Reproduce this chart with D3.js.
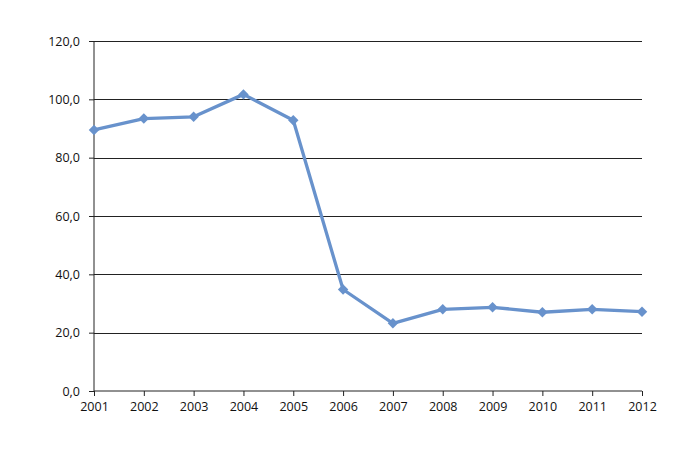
<!DOCTYPE html>
<html>
<head>
<meta charset="utf-8">
<script src="https://cdn.jsdelivr.net/npm/d3@7"></script>
<style>
  body { margin: 0; background: #fff; }
  .axis text { font-family: "Open Sans", sans-serif; font-size: 12.5px; fill: #111; }
</style>
</head>
<body>
<div id="chart"></div>
<script>
const years = ["2001", "2002", "2003", "2004", "2005", "2006", "2007", "2008", "2009", "2010", "2011", "2012"];
const values = [89.5, 93.4, 94.0, 101.7, 92.8, 34.8, 23.2, 28.0, 28.7, 27.0, 28.0, 27.2];
const yTicks = [0, 20, 40, 60, 80, 100, 120];

const margin = { top: 41, right: 58, bottom: 65, left: 94 },
  width = 700 - margin.left - margin.right,
  height = 456 - margin.top - margin.bottom;

const svg = d3
  .select("#chart")
  .append("svg")
  .attr("width", 700)
  .attr("height", 456)
  .append("g")
  .attr("transform", `translate(${margin.left}, ${margin.top})`);

const x = d3.scalePoint().domain(years).range([0, width]);
const y = d3.scaleLinear().domain([0, 120]).range([height, 0]);

// gridlines
svg
  .append("g")
  .selectAll("line")
  .data(yTicks.filter((d) => d > 0))
  .join("line")
  .attr("x1", 0)
  .attr("x2", width)
  .attr("y1", (d) => Math.round(y(d)) + 0.5)
  .attr("y2", (d) => Math.round(y(d)) + 0.5)
  .attr("stroke", "#222")
  .attr("stroke-width", 1);

// axes
const yAxis = svg
  .append("g")
  .attr("class", "axis")
  .call(
    d3.axisLeft(y).tickValues(yTicks).tickSize(5).tickPadding(9)
      .tickFormat((d) => d.toFixed(1).replace(".", ","))
  );

const xAxis = svg
  .append("g")
  .attr("class", "axis")
  .attr("transform", `translate(0, ${height})`)
  .call(d3.axisBottom(x).tickSize(5).tickPadding(6));

[xAxis, yAxis].forEach((a) => {
  a.select(".domain").attr("stroke", "#222");
  a.selectAll(".tick line").attr("stroke", "#222");
});
yAxis.select(".domain").attr("d", `M0,${height}V0`);
xAxis.select(".domain").attr("d", `M0,0H${width}`);

// line
const line = d3
  .line()
  .x((d, i) => x(years[i]))
  .y((d) => y(d));

svg
  .append("path")
  .datum(values)
  .attr("fill", "none")
  .attr("stroke", "#6892CC")
  .attr("stroke-width", 3.3)
  .attr("stroke-linejoin", "round")
  .attr("d", line);

// diamond markers
svg
  .append("g")
  .selectAll("path")
  .data(values)
  .join("path")
  .attr("transform", (d, i) => `translate(${x(years[i])}, ${y(d)}) rotate(45)`)
  .attr("d", "M-3.7,-3.7H3.7V3.7H-3.7Z")
  .attr("fill", "#6892CC");
</script>
</body>
</html>
